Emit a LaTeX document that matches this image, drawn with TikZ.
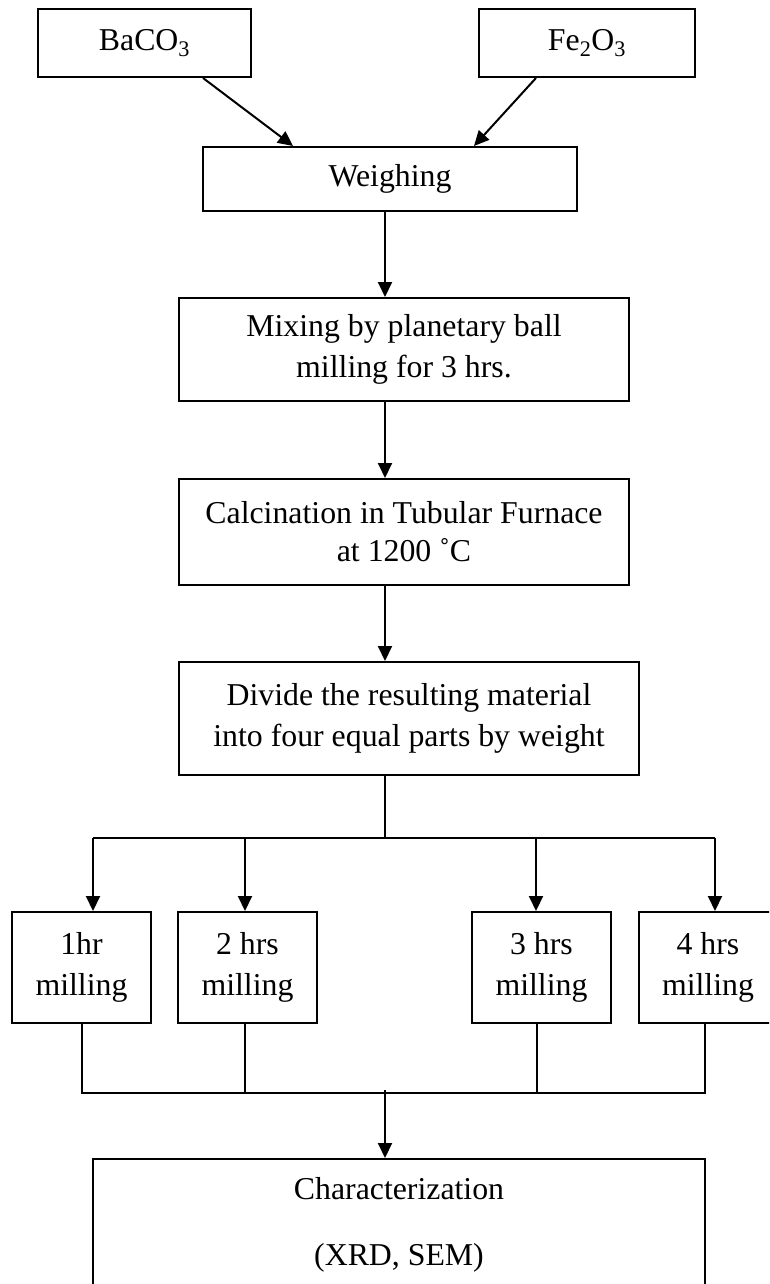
\documentclass[tikz,border=0pt]{standalone}
\usepackage{fontspec}
\setmainfont{Liberation Serif}
\usetikzlibrary{arrows.meta,calc}
\begin{document}
\begin{tikzpicture}[x=1pt,y=-1pt,
  box/.style={draw,line width=2pt,inner sep=0pt,align=center,
    font=\fontsize{31.8}{41}\selectfont},
  txt/.style={inner sep=0pt,font=\fontsize{31.8}{41}\selectfont},
  conn/.style={line width=2pt},
  arr/.style={conn,-{Triangle[length=15pt,width=14pt]}}]
\clip (0,0) rectangle (769,1284);
\fill[white] (0,0) rectangle (769,1284);
% nodes
\node[box,minimum width=213,minimum height=68] (ba) at (144.5,43) {BaCO\textsubscript{3}};
\node[box,minimum width=216,minimum height=68] (fe) at (587,43) {Fe\textsubscript{2}O\textsubscript{3}};
\node[box,minimum width=374,minimum height=64] (weigh) at (390,179) {Weighing};
\node[box,minimum width=450,minimum height=103] (mix) at (404,349.5) {Mixing by planetary ball\\milling for 3 hrs.};
\node[box,minimum width=450,minimum height=106,font=\fontsize{31.8}{38}\selectfont] (calc) at (404,532) {Calcination in Tubular Furnace\\at 1200 \symbol{"02DA}C};
\node[box,minimum width=460,minimum height=113] (divide) at (409,718.5) {Divide the resulting material\\into four equal parts by weight};
\node[box,minimum width=139,minimum height=111] (m1) at (81.5,967.5) {1hr\\milling};
\node[box,minimum width=139,minimum height=111] (m2) at (247.5,967.5) {2 hrs\\milling};
\node[box,minimum width=139,minimum height=111] (m3) at (541.5,967.5) {3 hrs\\milling};
\node[box,minimum width=138,minimum height=111] (m4) at (708,967.5) {4 hrs\\milling};
\node[box,minimum width=612,minimum height=141] (char) at (399,1229.5) {};
\node[txt,anchor=base] (ct1) at (399,1199) {Characterization};
\node[txt,anchor=base] (ct2) at (399,1265) {(XRD, SEM)};
% coordinates
\coordinate (spine) at (385,0);
\coordinate (br) at (385,838);
\coordinate (a1) at (93,838);
\coordinate (a2) at (245,838);
\coordinate (a3) at (536,838);
\coordinate (a4) at (715,838);
\coordinate (c1) at (82,1093);
\coordinate (c2) at (245,1093);
\coordinate (c3) at (537,1093);
\coordinate (c4) at (705,1093);
\coordinate (cm) at (385,1093);
% connectors
\draw[arr] ($(ba.south)+(58.5,0)$) -- ($(weigh.north west)+(91,0)$);
\draw[arr] ($(fe.south)+(-51,0)$) -- ($(weigh.north east)+(-104,0)$);
\draw[arr] (weigh.south -| spine) -- (mix.north -| spine);
\draw[arr] (mix.south -| spine) -- (calc.north -| spine);
\draw[arr] (calc.south -| spine) -- (divide.north -| spine);
\draw[conn] (divide.south -| br) -- (br);
\draw[conn] (a1) -- (a4);
\draw[arr] (a1) -- (m1.north -| a1);
\draw[arr] (a2) -- (m2.north -| a2);
\draw[arr] (a3) -- (m3.north -| a3);
\draw[arr] (a4) -- (m4.north -| a4);
\draw[conn] (m1.south -| c1) -- (c1) -- (c4) -- (m4.south -| c4);
\draw[conn] (m2.south -| c2) -- (c2);
\draw[conn] (m3.south -| c3) -- (c3);
\draw[arr] ($(cm)+(0,-3)$) -- (char.north -| cm);
\end{tikzpicture}
\end{document}
